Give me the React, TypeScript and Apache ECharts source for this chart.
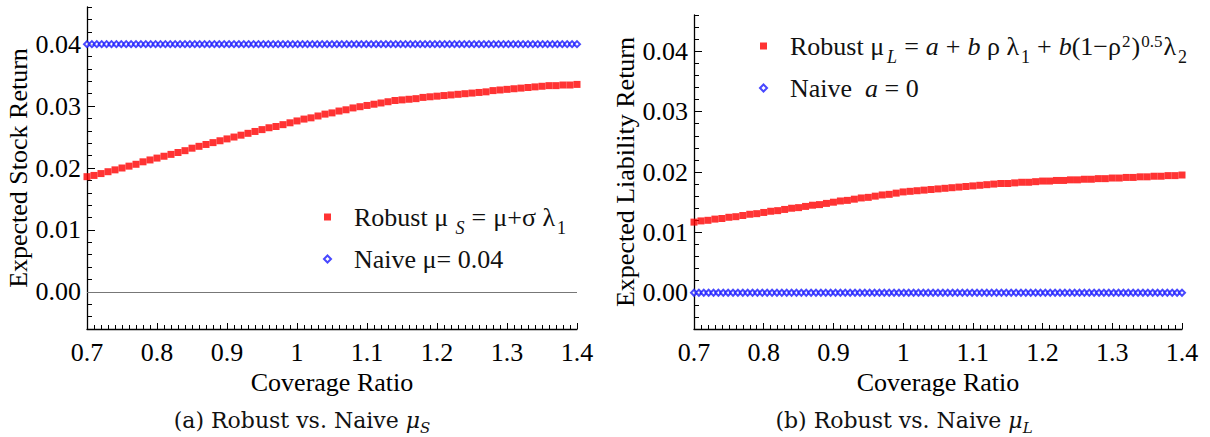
import React, { useEffect, useRef } from 'react';
import * as echarts from 'echarts';

// ---------- data ----------
const coverage = [
  0.7, 0.71, 0.72, 0.73, 0.74, 0.75, 0.76, 0.77, 0.78, 0.79,
  0.8, 0.81, 0.82, 0.83, 0.84, 0.85, 0.86, 0.87, 0.88, 0.89,
  0.9, 0.91, 0.92, 0.93, 0.94, 0.95, 0.96, 0.97, 0.98, 0.99,
  1.0, 1.01, 1.02, 1.03, 1.04, 1.05, 1.06, 1.07, 1.08, 1.09,
  1.1, 1.11, 1.12, 1.13, 1.14, 1.15, 1.16, 1.17, 1.18, 1.19,
  1.2, 1.21, 1.22, 1.23, 1.24, 1.25, 1.26, 1.27, 1.28, 1.29,
  1.3, 1.31, 1.32, 1.33, 1.34, 1.35, 1.36, 1.37, 1.38, 1.39,
  1.4,
];

const robustStock = [
  0.0186, 0.0188, 0.0191, 0.0194, 0.0197, 0.02, 0.0203, 0.0206, 0.021, 0.0213,
  0.0216, 0.0219, 0.0222, 0.0225, 0.0228, 0.0232, 0.0235, 0.0238, 0.0241, 0.0244,
  0.0247, 0.025, 0.0253, 0.0256, 0.0259, 0.0262, 0.0265, 0.0267, 0.027, 0.0273,
  0.0276, 0.0279, 0.0281, 0.0284, 0.0287, 0.0289, 0.0292, 0.0294, 0.0297, 0.0299,
  0.0301, 0.0303, 0.0305, 0.0307, 0.0309, 0.031, 0.0311, 0.0312, 0.0314, 0.0315,
  0.0316, 0.0317, 0.0318, 0.0319, 0.032, 0.0321, 0.0322, 0.0323, 0.0325, 0.0326,
  0.0327, 0.0328, 0.0329, 0.033, 0.0331, 0.0332, 0.0333, 0.0333, 0.0334, 0.0334,
  0.0335,
];

const robustLiability = [
  0.0117, 0.0119, 0.012, 0.0122, 0.0123, 0.0125, 0.0126, 0.0128, 0.013, 0.0131,
  0.0133, 0.0135, 0.0136, 0.0138, 0.014, 0.0141, 0.0143, 0.0145, 0.0146, 0.0148,
  0.015, 0.0152, 0.0153, 0.0155, 0.0157, 0.0158, 0.016, 0.0162, 0.0163, 0.0165,
  0.0167, 0.0168, 0.0169, 0.017, 0.0171, 0.0172, 0.0173, 0.0174, 0.0175, 0.0176,
  0.0177, 0.0178, 0.0179, 0.018, 0.0181, 0.0181, 0.0182, 0.0183, 0.0183, 0.0184,
  0.0185, 0.0185, 0.0186, 0.0186, 0.0187, 0.0187, 0.0188, 0.0188, 0.0189, 0.0189,
  0.019, 0.019, 0.0191, 0.0191, 0.0192, 0.0192, 0.0193, 0.0193, 0.0194, 0.0194,
  0.0195,
];

const naiveCoverage = [
  0.7, 0.707, 0.714, 0.721, 0.728, 0.735, 0.742, 0.749, 0.756, 0.763,
  0.77, 0.777, 0.784, 0.791, 0.798, 0.805, 0.812, 0.819, 0.826, 0.833,
  0.84, 0.847, 0.854, 0.861, 0.868, 0.875, 0.882, 0.889, 0.896, 0.903,
  0.91, 0.917, 0.924, 0.931, 0.938, 0.945, 0.952, 0.959, 0.966, 0.973,
  0.98, 0.987, 0.994, 1.001, 1.008, 1.015, 1.022, 1.029, 1.036, 1.043,
  1.05, 1.057, 1.064, 1.071, 1.078, 1.085, 1.092, 1.099, 1.106, 1.113,
  1.12, 1.127, 1.134, 1.141, 1.148, 1.155, 1.162, 1.169, 1.176, 1.183,
  1.19, 1.197, 1.204, 1.211, 1.218, 1.225, 1.232, 1.239, 1.246, 1.253,
  1.26, 1.267, 1.274, 1.281, 1.288, 1.295, 1.302, 1.309, 1.316, 1.323,
  1.33, 1.337, 1.344, 1.351, 1.358, 1.365, 1.372, 1.379, 1.386, 1.393,
  1.4,
];
const naiveStockValue = 0.04;
const naiveLiabilityValue = 0.0;

const xTickLabels = ['0.7', '0.8', '0.9', '1', '1.1', '1.2', '1.3', '1.4'];
const yTickValues = [0, 0.01, 0.02, 0.03, 0.04];
const yTickLabels = ['0.00', '0.01', '0.02', '0.03', '0.04'];

// ---------- styling ----------
const FONT = 'Liberation Serif';
const CAP_FONT = 'DejaVu Serif';
const BLACK = '#000';
const RED = '#ff0000';
const BLUE = '#1a1aff';
const FS = 26;

const legendRich = {
  r: { fontFamily: FONT, fontSize: FS, lineHeight: 40, color: '#111', padding: [0, 0, 0, 18] },
  n: { fontFamily: FONT, fontSize: FS, lineHeight: 40, color: '#111' },
  op: { fontFamily: FONT, fontSize: FS, lineHeight: 40, color: '#111', padding: [0, 7, 0, 7] },
  i: { fontFamily: FONT, fontSize: FS, lineHeight: 40, color: '#111', fontStyle: 'italic' },
  sub: { fontFamily: FONT, fontSize: 18, lineHeight: 14, color: '#111', verticalAlign: 'bottom', padding: [0, 0, 0, 2] },
  subi: { fontFamily: FONT, fontSize: 18, lineHeight: 14, color: '#111', verticalAlign: 'bottom', fontStyle: 'italic', padding: [0, 0, 0, 3] },
  sup: { fontFamily: FONT, fontSize: 17, lineHeight: 20, color: '#111', verticalAlign: 'top', padding: [7, 1, 0, 1] },
};

const legendText: Record<string, string> = {
  'Robust μS': '{r|Robust μ}{subi| S}{op|=}{n|μ+σ λ}{sub|1}',
  'Naive μ=0.04': '{r|Naive μ= 0.04}',
  'Robust μL': '{r|Robust μ}{subi|L}{op|=}{i|a}{op|+}{i|b}{n| ρ λ}{sub|1}{op|+}{i|b}{n|(1−ρ}{sup|2}{n|)}{sup|0.5}{n|λ}{sub|2}',
  'Naive a=0': '{r|Naive  }{i|a}{n| = 0}',
};

const capRich = {
  t: { fontFamily: CAP_FONT, fontSize: 22, lineHeight: 30, fill: '#111' },
  m: { fontFamily: CAP_FONT, fontSize: 22, lineHeight: 30, fill: '#111', fontStyle: 'italic' },
  s: { fontFamily: CAP_FONT, fontSize: 15, lineHeight: 18, fill: '#111', fontStyle: 'italic', verticalAlign: 'bottom' },
};

const isMultiple = (v: number, step: number) => Math.abs(v / step - Math.round(v / step)) < 1e-6;

function axesFor(grid: number, yName: string) {
  const xMinor = {
    type: 'value', gridIndex: grid, position: 'bottom', offset: 0,
    min: 0.7, max: 1.4, interval: 0.01,
    axisLine: { show: true, onZero: false, lineStyle: { color: BLACK, width: 1.3 } },
    axisTick: { show: true, inside: true, length: 4, lineStyle: { color: BLACK, width: 1 } },
    axisLabel: { show: false }, splitLine: { show: false },
  };
  const xMajor = {
    type: 'value', gridIndex: grid, position: 'bottom', offset: 0,
    min: 0.7, max: 1.4, interval: 0.1,
    axisLine: { show: false, onZero: false },
    axisTick: { show: true, inside: true, length: 8, lineStyle: { color: BLACK, width: 1, type: [2, 2] } },
    axisLabel: {
      show: true, margin: 10, fontSize: FS, fontFamily: FONT, color: BLACK,
      formatter: (v: number) => xTickLabels[Math.round((v - 0.7) * 10)] ?? '',
    },
    splitLine: { show: false },
    name: 'Coverage Ratio', nameLocation: 'middle', nameGap: 38,
    nameTextStyle: { fontSize: FS, fontFamily: FONT, color: BLACK },
  };
  const yMinor = {
    type: 'value', gridIndex: grid, position: 'left', offset: 0,
    min: -0.006, max: 0.046, interval: 0.002,
    axisLine: { show: true, onZero: false, lineStyle: { color: BLACK, width: 1.3 } },
    axisTick: { show: true, inside: true, length: 5, lineStyle: { color: BLACK, width: 1 } },
    axisLabel: { show: false }, splitLine: { show: false },
  };
  const yMajor = {
    type: 'value', gridIndex: grid, position: 'left', offset: 0,
    min: -0.006, max: 0.046,
    minInterval: 0.01, maxInterval: 0.01, splitNumber: 5,
    axisLine: { show: false, onZero: false },
    axisTick: { show: true, inside: true, length: 8, customValues: yTickValues, lineStyle: { color: BLACK, width: 1 } },
    axisLabel: {
      show: true, margin: 6, fontSize: FS, fontFamily: FONT, color: BLACK,
      customValues: yTickValues,
      formatter: (v: number) => {
        if (!isMultiple(v, 0.01)) return '';
        const idx = yTickValues.findIndex((t) => Math.abs(t - v) < 1e-9);
        return idx >= 0 ? yTickLabels[idx] : '';
      },
    },
    splitLine: { show: false },
    name: yName, nameLocation: 'middle', nameGap: 51,
    nameTextStyle: { fontSize: FS, fontFamily: FONT, color: BLACK },
  };
  return { x: [xMinor, xMajor], y: [yMinor, yMajor] };
}

function buildOption() {
  const left = axesFor(0, 'Expected Stock Return');
  const right = axesFor(1, 'Expected Liability Return');

  return {
    animation: false,
    backgroundColor: '#fff',
    grid: [
      { left: 87, top: 7, width: 490, height: 322, containLabel: false, outerBoundsMode: 'none' },
      { left: 694, top: 15, width: 488, height: 314, containLabel: false, outerBoundsMode: 'none' },
    ],
    xAxis: [...left.x, ...right.x],
    yAxis: [...left.y, ...right.y],
    legend: [
      {
        data: ['Robust μS', 'Naive μ=0.04'],
        orient: 'vertical', left: 323, top: 204, itemGap: 9,
        itemWidth: 7, itemHeight: 7, selectedMode: false, padding: 0,
        formatter: (name: string) => legendText[name],
        textStyle: { fontFamily: FONT, fontSize: FS, color: '#111', rich: legendRich },
      },
      {
        data: ['Robust μL', 'Naive a=0'],
        orient: 'vertical', left: 759, top: 26, itemGap: 9,
        itemWidth: 7, itemHeight: 7, selectedMode: false, padding: 0,
        formatter: (name: string) => legendText[name],
        textStyle: { fontFamily: FONT, fontSize: FS, color: '#111', rich: legendRich },
      },
    ],
    series: [
      {
        name: 'Robust μS', type: 'scatter', xAxisIndex: 0, yAxisIndex: 0,
        symbol: 'rect', symbolSize: 7, itemStyle: { color: RED },
        data: coverage.map((c, i) => [c, robustStock[i]]),
        markLine: {
          silent: true, symbol: ['none', 'none'], label: { show: false },
          lineStyle: { color: '#777', width: 1, type: 'solid' },
          data: [{ yAxis: 0 }],
        },
        z: 2,
      },
      {
        name: 'Naive μ=0.04', type: 'scatter', xAxisIndex: 0, yAxisIndex: 0,
        symbol: 'emptyDiamond', symbolSize: 6,
        itemStyle: { color: BLUE, borderColor: BLUE, borderWidth: 1 },
        data: naiveCoverage.map((c) => [c, naiveStockValue]),
        z: 3,
      },
      {
        name: 'Robust μL', type: 'scatter', xAxisIndex: 2, yAxisIndex: 2,
        symbol: 'rect', symbolSize: 7, itemStyle: { color: RED },
        data: coverage.map((c, i) => [c, robustLiability[i]]),
        z: 2,
      },
      {
        name: 'Naive a=0', type: 'scatter', xAxisIndex: 2, yAxisIndex: 2,
        symbol: 'emptyDiamond', symbolSize: 6,
        itemStyle: { color: BLUE, borderColor: BLUE, borderWidth: 1 },
        data: naiveCoverage.map((c) => [c, naiveLiabilityValue]),
        z: 3,
      },
    ],
    graphic: [
      {
        type: 'text', x: 302, y: 420,
        style: { text: '{t|(a) Robust vs. Naive }{m|μ}{s|S}', rich: capRich, align: 'center', verticalAlign: 'middle' },
      },
      {
        type: 'text', x: 904, y: 420,
        style: { text: '{t|(b) Robust vs. Naive }{m|μ}{s|L}', rich: capRich, align: 'center', verticalAlign: 'middle' },
      },
    ],
  };
}

export default function App() {
  const ref = useRef<HTMLDivElement>(null);
  useEffect(() => {
    if (!ref.current) return;
    const chart = echarts.init(ref.current, undefined, { renderer: 'svg' });
    chart.setOption(buildOption() as any);
    return () => chart.dispose();
  }, []);
  return (
    <div
      ref={ref}
      style={{ position: 'absolute', left: 0, top: 0, width: 1210, height: 437, background: '#fff' }}
    />
  );
}
